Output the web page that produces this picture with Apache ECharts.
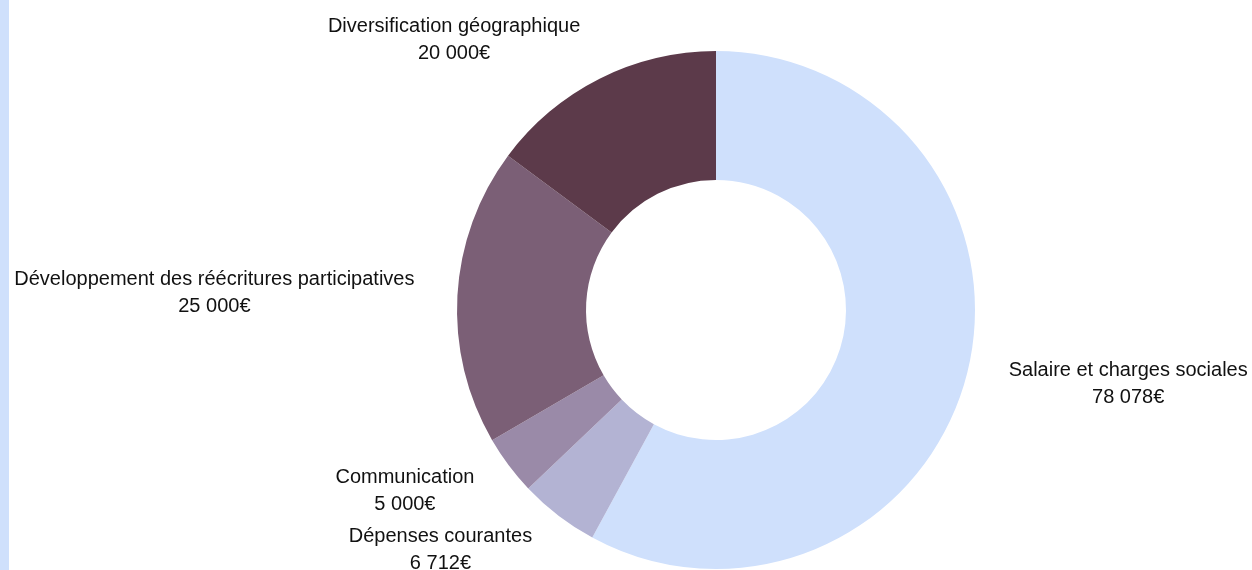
<!DOCTYPE html>
<html>
<head>
<meta charset="utf-8">
<script src="https://cdn.jsdelivr.net/npm/echarts@6/dist/echarts.min.js"></script>
<style>
  html, body { margin: 0; padding: 0; background: #fff; }
  .side-bar { position: absolute; left: 0; top: 0; width: 9px; height: 570px; background: #cfe0fc; }
  #chart { width: 1252px; height: 570px; }
</style>
</head>
<body>
<div class="side-bar"></div>
<div id="chart"></div>
<script>
const categories = [
  'Salaire et charges sociales',
  'Dépenses courantes',
  'Communication',
  'Développement des réécritures participatives',
  'Diversification géographique'
]
const amounts = [78078, 6712, 5000, 25000, 20000]
const colors = ['#cfe0fc', '#b3b3d3', '#9a8aa8', '#7b5f76', '#5c3a4a']

// 78078 -> "78 078€"
function formatEuro(v) {
  return String(v).replace(/\B(?=(\d{3})+(?!\d))/g, ' ') + '€'
}

const chart = echarts.init(document.getElementById('chart'))

chart.setOption({
  animation: false,
  series: [{
    type: 'pie',
    center: [716, 310],
    radius: [130, 259],
    startAngle: 90,
    clockwise: true,
    avoidLabelOverlap: false,
    data: categories.map((name, i) => ({
      name: name,
      value: amounts[i],
      itemStyle: { color: colors[i] }
    })),
    label: {
      show: true,
      position: 'outside',
      formatter: (p) => '{t|' + p.name + '}\n{t|' + formatEuro(p.value) + '}',
      rich: {
        t: {
          fontFamily: 'Liberation Sans',
          fontSize: 20,
          lineHeight: 27,
          color: '#111',
          align: 'center'
        }
      }
    },
    labelLine: {
      show: false,
      length: 43,
      length2: 0
    },
    // pull every label 5px back towards the ring
    labelLayout: (p) => ({
      dx: p.labelRect.x + p.labelRect.width / 2 < 716 ? 5 : -5
    }),
    emphasis: { disabled: true }
  }]
})
</script>
</body>
</html>
